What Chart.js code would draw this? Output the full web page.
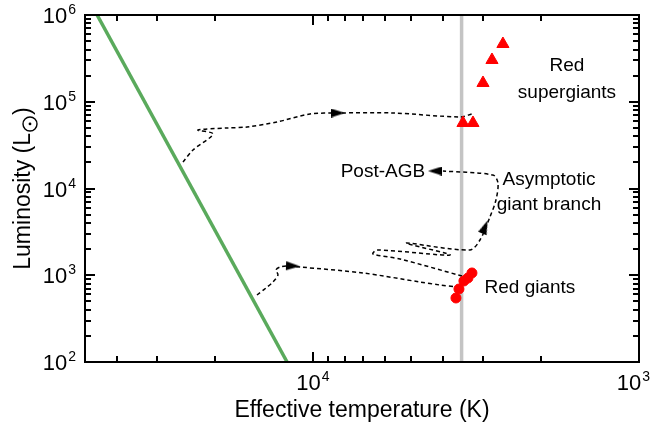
<!DOCTYPE html>
<html>
<head>
<meta charset="utf-8">
<script src="https://cdn.jsdelivr.net/npm/chart.js@4.4.1/dist/chart.umd.min.js"></script>
<style>
html, body { margin: 0; padding: 0; background: #fff; }
</style>
</head>
<body>
<canvas id="hr" width="651" height="425"></canvas>
<script>
// main sequence (green line)
var msTemp = [45900, 12000];
var msLum = [1e6, 1e2];
// Hayashi limit (gray vertical line)
var grayTemp = [3500, 3500];
var grayLum = [1e2, 1e6];

// red supergiants (triangles)
var rsgTemp = [2614, 2824, 3009, 3466, 3230];
var rsgLum = [4.63e5, 3.03e5, 1.645e5, 5.69e4, 5.69e4];
// red giants (dots)
var rgTemp = [3642, 3566, 3443, 3346, 3253];
var rgLum = [547, 694, 859, 930, 1062];

// high mass track
var topTemp = [25030, 23320, 20250, 22520, 18350, 15930, 12890, 10210, 8380, 5681, 3541, 3253];
var topLum = [20210, 27790, 42480, 47240, 49830, 51170, 58430, 72240, 74180, 74180, 66710, 72240];
// low mass track to red giants
var lowTemp = [14845, 13930, 13260, 12800, 12980, 12620, 12010, 10960, 7023, 4695, 4078, 3617];
var lowLum = [592, 713, 836, 1007, 1150, 1245, 1278, 1245, 1062, 836, 772, 732];
// red giant -> AGB -> post-AGB
var agbTemp = [3490, 5408, 6542, 6361, 3799, 5183, 3299, 3074, 2865, 2746, 2707, 2805, 3993];
var agbLum = [980, 1539, 1758, 1955, 1712, 2353, 1955, 2549, 4693, 7370, 11570, 14310, 15910];

// arrow heads
var arrowTemp = [8380, 11510, 2968, 4224];
var arrowLum = [74180, 1278, 3599, 15910];
var arrowRot = [90, 92, 22, 270];

// text in the plot
var labelText = ['Red', 'supergiants', 'Asymptotic', 'giant branch', 'Post-AGB', 'Red giants'];
var labelTemp = [1663, 1663, 1889, 1889, 6100, 2160];
var labelLum = [2.58e5, 1.262e5, 12530, 6452, 15500, 713];

// ticks
var xMajor = [1e4, 1e3];
var xMinor = [2000, 3000, 4000, 5000, 6000, 7000, 8000, 9000, 20000, 30000, 40000];
var yMajor = [1e2, 1e3, 1e4, 1e5, 1e6];

var FONT = '"Liberation Sans", Arial, sans-serif';

function pts(xs, ys) {
    var out = [];
    for (var i = 0; i < xs.length; i++) out.push({x: xs[i], y: ys[i]});
    return out;
}

// arrow head picture, pointing up (rotated per point)
var arrowImg = document.createElement('canvas');
arrowImg.width = 9;
arrowImg.height = 14;
var ac = arrowImg.getContext('2d');
ac.fillStyle = '#000';
ac.beginPath();
ac.moveTo(4.5, 0);
ac.lineTo(9, 14);
ac.lineTo(0, 14);
ac.closePath();
ac.fill();

function powLabel(c, exp, x, y, align) {
    // x: anchor, y: baseline of "10"
    c.font = '22px ' + FONT;
    var w1 = c.measureText('10').width;
    c.font = '14px ' + FONT;
    var w2 = c.measureText(String(exp)).width;
    var left = align === 'right' ? x - w1 - w2 - 1 : x - (w1 + w2 + 1) / 2;
    if (left + w1 + w2 + 1 > 650) left = 650 - w1 - w2 - 1;
    c.textAlign = 'left';
    c.textBaseline = 'alphabetic';
    c.font = '22px ' + FONT;
    c.fillText('10', left, y);
    c.font = '14px ' + FONT;
    c.fillText(String(exp), left + w1 + 1, y - 9);
}

var framePlugin = {
    id: 'frame',
    afterDatasetsDraw: function(chart) {
        var c = chart.ctx, a = chart.chartArea;
        var sx = chart.scales.x, sy = chart.scales.y;
        c.save();
        c.strokeStyle = '#000';
        c.lineWidth = 2;
        var xt = xMajor.concat(xMinor);
        for (var i = 0; i < xt.length; i++) {
            var len = xMajor.indexOf(xt[i]) >= 0 ? 10 : 6;
            var px = Math.round(sx.getPixelForValue(xt[i]));
            c.beginPath();
            c.moveTo(px, a.bottom); c.lineTo(px, a.bottom - len);
            c.moveTo(px, a.top); c.lineTo(px, a.top + len);
            c.stroke();
        }
        for (var d = 0; d < yMajor.length; d++) {
            var py = Math.round(sy.getPixelForValue(yMajor[d]));
            c.beginPath();
            c.moveTo(a.left, py); c.lineTo(a.left + 10, py);
            c.moveTo(a.right, py); c.lineTo(a.right - 10, py);
            c.stroke();
            if (d == yMajor.length - 1) break;
            for (var m = 2; m <= 9; m++) {
                py = Math.round(sy.getPixelForValue(yMajor[d] * m));
                c.beginPath();
                c.moveTo(a.left, py); c.lineTo(a.left + 6, py);
                c.moveTo(a.right, py); c.lineTo(a.right - 6, py);
                c.stroke();
            }
        }
        c.strokeRect(a.left, a.top, a.right - a.left, a.bottom - a.top);
        c.restore();
    },
    afterDraw: function(chart) {
        var c = chart.ctx, a = chart.chartArea;
        var sx = chart.scales.x, sy = chart.scales.y;
        c.save();
        c.fillStyle = '#000';
        c.strokeStyle = '#000';
        // tick labels
        for (var i = 0; i < yMajor.length; i++) {
            var py = sy.getPixelForValue(yMajor[i]);
            powLabel(c, Math.round(Math.log10(yMajor[i])), a.left - 9, py + 8, 'right');
        }
        for (var j = 0; j < xMajor.length; j++) {
            var px = sx.getPixelForValue(xMajor[j]);
            powLabel(c, Math.round(Math.log10(xMajor[j])), px, a.bottom + 28, 'center');
        }
        // axis titles
        c.font = '23px ' + FONT;
        c.textAlign = 'center';
        c.textBaseline = 'alphabetic';
        c.fillText('Effective temperature (K)', (a.left + a.right) / 2, 417);

        c.translate(30, (a.top + a.bottom) / 2);
        c.rotate(-Math.PI / 2);
        var t1 = 'Luminosity (L', t2 = ')';
        var w1 = c.measureText(t1).width, w2 = c.measureText(t2).width;
        var ws = 18;
        var x0 = -(w1 + ws + w2) / 2;
        c.textAlign = 'left';
        c.fillText(t1, x0, 0);
        // sun symbol as subscript
        c.lineWidth = 1.4;
        c.beginPath();
        c.arc(x0 + w1 + ws / 2, 0, 7, 0, Math.PI * 2);
        c.stroke();
        c.beginPath();
        c.arc(x0 + w1 + ws / 2, 0, 1.4, 0, Math.PI * 2);
        c.fill();
        c.fillText(t2, x0 + w1 + ws, 0);
        c.restore();

        // annotations
        c.save();
        c.fillStyle = '#000';
        c.font = '19px ' + FONT;
        c.textAlign = 'center';
        c.textBaseline = 'middle';
        for (var k = 0; k < labelText.length; k++) {
            c.fillText(labelText[k], sx.getPixelForValue(labelTemp[k]), sy.getPixelForValue(labelLum[k]));
        }
        c.restore();
    }
};

var dash = [4, 3];
var chart = new Chart(document.getElementById('hr'), {
    type: 'scatter',
    data: {
        datasets: [
            { data: pts(arrowTemp, arrowLum), pointStyle: arrowImg, pointRotation: arrowRot, pointRadius: 6, showLine: false },
            { data: pts(rsgTemp, rsgLum), pointStyle: 'triangle', pointRadius: 7, backgroundColor: '#ff0000', borderColor: '#ff0000', borderWidth: 1, showLine: false },
            { data: pts(rgTemp, rgLum), pointStyle: 'circle', pointRadius: 5, backgroundColor: '#ff0000', borderColor: '#ff0000', borderWidth: 1, showLine: false },
            { data: pts(topTemp, topLum), showLine: true, borderColor: '#000', borderWidth: 1.5, borderDash: dash, pointRadius: 0, tension: 0.3 },
            { data: pts(lowTemp, lowLum), showLine: true, borderColor: '#000', borderWidth: 1.5, borderDash: dash, pointRadius: 0, tension: 0.3 },
            { data: pts(agbTemp, agbLum), showLine: true, borderColor: '#000', borderWidth: 1.5, borderDash: dash, pointRadius: 0, tension: 0.3 },
            { data: pts(msTemp, msLum), showLine: true, borderColor: '#5aaa5c', borderWidth: 3.5, pointRadius: 0 },
            { data: pts(grayTemp, grayLum), showLine: true, borderColor: '#c4c4c4', borderWidth: 3.5, pointRadius: 0 }
        ]
    },
    options: {
        responsive: false,
        animation: false,
        devicePixelRatio: 1,
        layout: { padding: { left: 0, top: 15, right: 12, bottom: 0 } },
        plugins: { legend: { display: false }, tooltip: { enabled: false } },
        scales: {
            x: {
                type: 'logarithmic', min: 1000, max: 50000, reverse: true,
                grid: { display: false }, border: { display: false },
                ticks: { display: false },
                afterFit: function(s) { s.height = 63; }
            },
            y: {
                type: 'logarithmic', min: 100, max: 1e6,
                grid: { display: false }, border: { display: false },
                ticks: { display: false },
                afterFit: function(s) { s.width = 85; }
            }
        }
    },
    plugins: [framePlugin]
});
</script>
</body>
</html>
